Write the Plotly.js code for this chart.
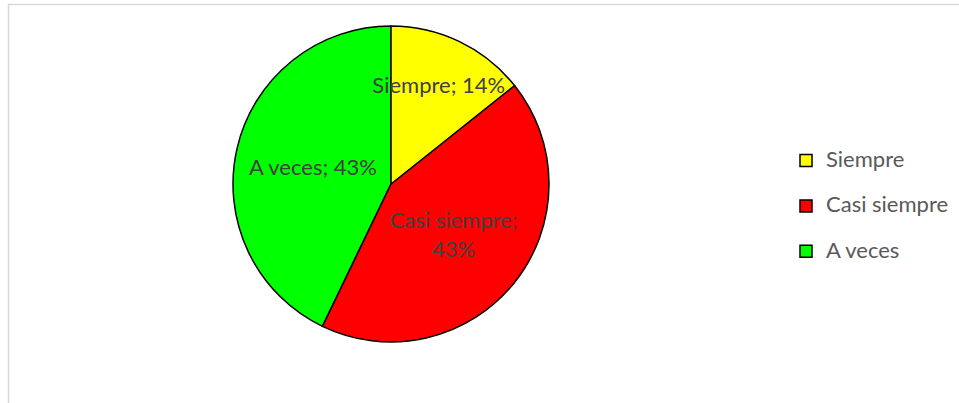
<!DOCTYPE html>
<html>
<head>
<meta charset="utf-8">
<script src="https://cdn.plot.ly/plotly-3.0.1.min.js"></script>
<style>html,body{margin:0;padding:0;background:#fff;}#chart{width:959px;height:403px;}</style>
</head>
<body>
<div id="chart"></div>
<script>
const categories = ["Siempre", "Casi siempre", "A veces"];
const counts = [1, 3, 3];
const sliceColors = ["#FFFF00", "#FF0000", "#00FF00"];
const labelSeparators = ["; ", ";<br>", "; "];

const W = 959, H = 403;
const cx = 391, cy = 184, r = 158;
const FONT = "Lato, 'Open Sans', sans-serif";
const TXT = 22;

// Slices are fed in reverse order and drawn counter-clockwise; the rotation puts
// the first category at 12 o'clock going clockwise, exactly as in the reference,
// while its label is drawn on top of the neighbouring slice.
const rev = a => a.slice().reverse();
const total = counts.reduce((s, v) => s + v, 0);
const rotation = -360 * counts[counts.length - 1] / total;
const legendLabels = categories.map(c => `<span style="font-size:${TXT}px">${c}</span><br>&nbsp;`);
const sliceTexts = categories.map((c, i) => c + labelSeparators[i]);

const trace = {
  type: "pie",
  labels: rev(legendLabels),
  text: rev(sliceTexts),
  values: rev(counts),
  sort: false,
  direction: "counterclockwise",
  rotation: rotation,
  marker: { colors: rev(sliceColors), line: { color: "#000000", width: 1.5 } },
  texttemplate: "%{text}%{percent:.0%}",
  textposition: "inside",
  insidetextorientation: "horizontal",
  textfont: { family: FONT, size: TXT, color: "#404040" },
  hoverinfo: "text+percent",
  domain: { x: [(cx - r) / W, (cx + r) / W], y: [(H - cy - r) / H, (H - cy + r) / H] }
};

const layout = {
  width: W, height: H,
  margin: { l: 0, r: 0, t: 0, b: 0 },
  paper_bgcolor: "#ffffff",
  showlegend: true,
  uniformtext: { minsize: TXT, mode: "show" },
  legend: {
    x: 786 / W, xanchor: "left",
    y: (H - 217) / H, yanchor: "middle",
    traceorder: "reversed",
    valign: "top",
    font: { family: FONT, size: 16.3, color: "#595959" },
    bgcolor: "rgba(0,0,0,0)"
  },
  shapes: [{
    type: "rect", xref: "paper", yref: "paper",
    x0: 8.5 / W, x1: 1.05, y0: -0.1, y1: (H - 4.5) / H,
    line: { color: "#d9d9d9", width: 1.5 }, fillcolor: "rgba(0,0,0,0)", layer: "below"
  }]
};

Plotly.newPlot("chart", [trace], layout, { staticPlot: true, displayModeBar: false });
</script>
</body>
</html>
